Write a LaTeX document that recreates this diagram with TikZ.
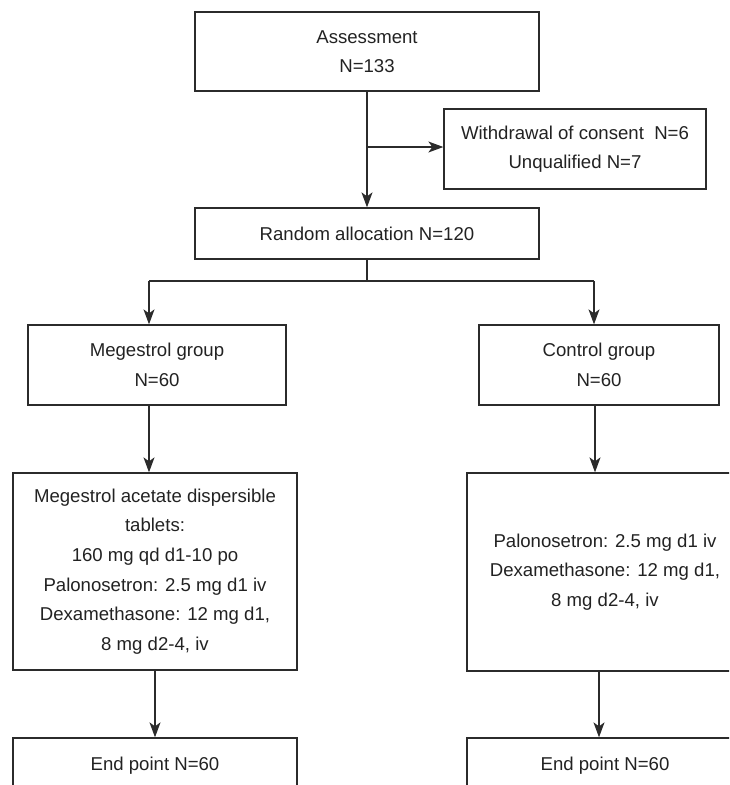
\documentclass[tikz,border=0pt]{standalone}
\usepackage{fontspec}
\setmainfont{Liberation Sans}
\usetikzlibrary{arrows.meta,calc}
\definecolor{linec}{HTML}{2B2B2B}
\definecolor{textc}{HTML}{222222}
\begin{document}
\begin{tikzpicture}[x=1pt,y=-1pt,
  box/.style={draw=linec, line width=1.3pt, inner sep=0pt, align=center,
    text=textc, font=\fontsize{18.6}{29.6}\selectfont},
  conn/.style={draw=linec, line width=1.3pt},
  arr/.style={conn, -{Stealth[length=15pt,width=11pt,inset=4pt]}}]
\useasboundingbox (0,0) rectangle (729,785);
\clip (0,0) rectangle (729,785);
% boxes
\node[box, minimum width=344, minimum height=79] (assess) at (367,51.5) {Assessment\\N=133};
\node[box, minimum width=262, minimum height=80] (wd) at (575,149) {Withdrawal of consent\ \ N=6\\Unqualified N=7};
\node[box, minimum width=344, minimum height=51] (random) at (367,233.5) {Random allocation N=120};
\node[box, minimum width=258, minimum height=80] (mg) at (157,365) {Megestrol group\\N=60};
\node[box, minimum width=240, minimum height=80] (cg) at (599,365) {Control group\\N=60};
\node[box, minimum width=284, minimum height=197] (md) at (155,571.5)
  {Megestrol acetate dispersible\\tablets:\\160 mg qd d1-10 po\\Palonosetron: 2.5 mg d1 iv\\Dexamethasone: 12 mg d1,\\8 mg d2-4, iv};
\node[box, minimum width=276, minimum height=198] (cd) at (605,572)
  {Palonosetron: 2.5 mg d1 iv\\Dexamethasone: 12 mg d1,\\8 mg d2-4, iv};
\node[box, minimum width=284, minimum height=56] (le) at (155,766) {End point N=60};
\node[box, minimum width=276, minimum height=56] (re) at (605,766) {End point N=60};
% helper coordinates
\coordinate (brk) at (367,147);
\coordinate (lsplit) at (149,281);
\coordinate (rsplit) at (594,281);
\coordinate (lmid) at (149,0);
\coordinate (rmid) at (595,0);
\coordinate (llow) at (155,0);
\coordinate (rlow) at (599,0);
% connectors
\draw[arr] (assess.south) -- (assess.south |- random.north);
\draw[arr] (brk) -- (brk -| wd.west);
\draw[conn] (random.south) -- (random.south |- lsplit);
\draw[conn] (lsplit) -- (rsplit);
\draw[arr] (lsplit) -- (lsplit |- mg.north);
\draw[arr] (rsplit) -- (rsplit |- cg.north);
\draw[arr] (mg.south -| lmid) -- (lmid |- md.north);
\draw[arr] (cg.south -| rmid) -- (rmid |- cd.north);
\draw[arr] (md.south -| llow) -- (llow |- le.north);
\draw[arr] (cd.south -| rlow) -- (rlow |- re.north);
\end{tikzpicture}
\end{document}
